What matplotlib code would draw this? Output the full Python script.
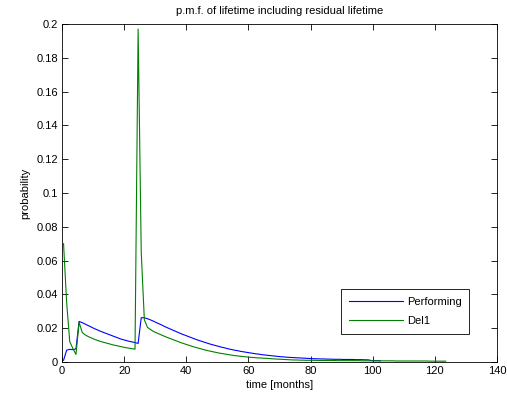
import numpy as np
import matplotlib.pyplot as plt

# p.m.f. of lifetime (monthly values, plotted at mid-month)
performing = [
    0.0010, 0.0070, 0.0075, 0.0073, 0.0078, 0.0240, 0.0233, 0.0224, 0.0215, 0.0206,
    0.0197, 0.0189, 0.0181, 0.0174, 0.0167, 0.0160, 0.0153, 0.0146, 0.0139, 0.0133,
    0.0128, 0.0123, 0.0119, 0.0115, 0.0110, 0.0262, 0.0262, 0.0256, 0.0249, 0.0241,
    0.0232, 0.0224, 0.0215, 0.0206, 0.0198, 0.0190, 0.0182, 0.0174, 0.0166, 0.0159,
    0.0152, 0.0145, 0.0138, 0.0131, 0.0125, 0.0119, 0.0113, 0.0107, 0.0102, 0.0097,
    0.0092, 0.0087, 0.0083, 0.0078, 0.0074, 0.0070, 0.0067, 0.0063, 0.0060, 0.0057,
    0.0054, 0.0051, 0.0048, 0.0046, 0.0043, 0.0041, 0.0039, 0.0037, 0.0035, 0.0033,
    0.0031, 0.0030, 0.0028, 0.0027, 0.0026, 0.0025, 0.0024, 0.0023, 0.0022, 0.0021,
    0.0020, 0.0019, 0.0019, 0.0018, 0.0018, 0.0017, 0.0017, 0.0016, 0.0016, 0.0016,
    0.0015, 0.0015, 0.0015, 0.0015, 0.0014, 0.0014, 0.0014, 0.0013, 0.0013, 0.0009,
    0.0008, 0.0008, 0.0007,
]

del1 = [
    0.0700, 0.0350, 0.0120, 0.0080, 0.0045, 0.0235, 0.0175, 0.0160, 0.0150, 0.0142,
    0.0134, 0.0127, 0.0121, 0.0116, 0.0111, 0.0106, 0.0101, 0.0097, 0.0093, 0.0089,
    0.0085, 0.0082, 0.0079, 0.0076, 0.1970, 0.0650, 0.0250, 0.0205, 0.0192, 0.0180,
    0.0172, 0.0164, 0.0156, 0.0148, 0.0141, 0.0134, 0.0127, 0.0120, 0.0113, 0.0107,
    0.0101, 0.0095, 0.0089, 0.0084, 0.0079, 0.0074, 0.0069, 0.0065, 0.0061, 0.0057,
    0.0053, 0.0050, 0.0047, 0.0044, 0.0041, 0.0038, 0.0036, 0.0034, 0.0032, 0.0030,
    0.0028, 0.0027, 0.0025, 0.0024, 0.0023, 0.0022, 0.0021, 0.0019, 0.0018, 0.0017,
    0.0016, 0.0015, 0.0014, 0.0013, 0.0012, 0.0012, 0.0011, 0.0011, 0.0010, 0.0010,
    0.0010, 0.0010, 0.0009, 0.0009, 0.0009, 0.0009, 0.0009, 0.0009, 0.0008, 0.0008,
    0.0008, 0.0008, 0.0008, 0.0008, 0.0008, 0.0008, 0.0007, 0.0007, 0.0007, 0.0007,
    0.0007, 0.0007, 0.0007, 0.0007, 0.0007, 0.0007, 0.0007, 0.0006, 0.0006, 0.0006,
    0.0006, 0.0006, 0.0006, 0.0006, 0.0006, 0.0006, 0.0006, 0.0006, 0.0005, 0.0005,
    0.0005, 0.0005, 0.0005, 0.0005,
]

t_perf = np.arange(len(performing)) + 0.5
t_del1 = np.arange(len(del1)) + 0.5

plt.rcParams['font.family'] = ['Liberation Sans', 'DejaVu Sans']
size = 8

fig = plt.figure(figsize=(5.07, 4.05), dpi=100)
ax = fig.add_axes([62/507, 43/405, 435/507, 338/405])

ax.plot(t_perf, performing, color=(0, 0, 1), lw=0.8, label='Performing')
ax.plot(t_del1, del1, color=(0, 0.5, 0), lw=0.8, label='Del1')

ax.set_xlim(0, 140)
ax.set_ylim(0, 0.2)
ax.set_xticks(np.arange(0, 141, 20))
ax.set_yticks(np.arange(0, 0.201, 0.02))
ax.set_yticklabels(['0', '0.02', '0.04', '0.06', '0.08', '0.1', '0.12', '0.14', '0.16', '0.18', '0.2'])
ax.tick_params(direction='in', top=True, right=True, length=4, width=0.6, labelsize=size, pad=3)
for s in ax.spines.values():
    s.set_linewidth(0.6)

ax.set_title('p.m.f. of lifetime including residual lifetime', fontsize=size, pad=7)
ax.set_xlabel('time [months]', fontsize=size, labelpad=3)
ax.set_ylabel('probability', fontsize=size, labelpad=4)

leg = ax.legend(loc='lower right', bbox_to_anchor=(0.936, 0.083), fontsize=size,
                fancybox=False, edgecolor='black', framealpha=1, handlelength=4.9,
                borderpad=0.7, labelspacing=0.85, handletextpad=0.3, borderaxespad=0)
leg.get_frame().set_linewidth(0.6)

plt.savefig('out.png', dpi=100)
